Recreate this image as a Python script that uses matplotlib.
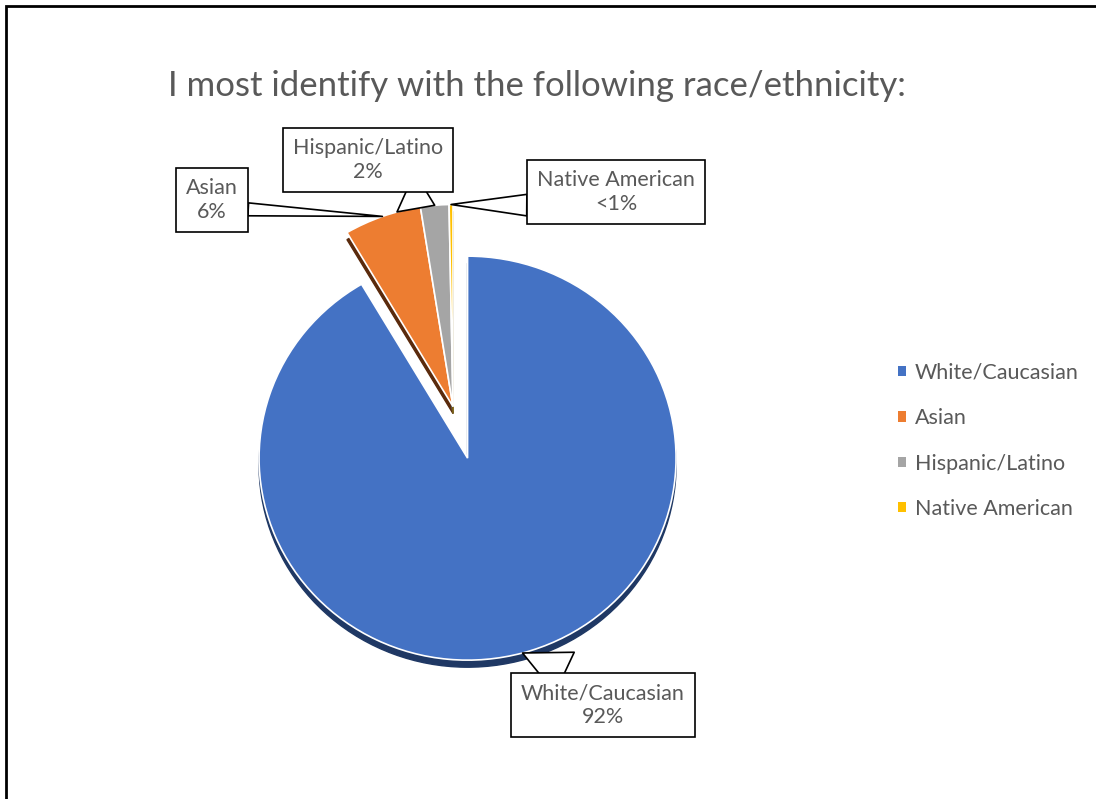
import matplotlib.pyplot as plt
from matplotlib.patches import Wedge, Rectangle
import numpy as np

plt.rcParams['font.family'] = ['Lato', 'DejaVu Sans']

labels = ["White/Caucasian", "Asian", "Hispanic/Latino", "Native American"]
shares = [91.6, 6.0, 2.2, 0.3]
pct_text = ["92%", "6%", "2%", "<1%"]
colors = ["#4472C4", "#ED7D31", "#A5A5A5", "#FFC000"]
dark = ["#1F3864", "#5A2A0C", "#5E5E5E", "#7F6000"]
explode = [0.265, 0, 0, 0]
text_col = "#595959"

W, H = 1096, 799
fig = plt.figure(figsize=(W / 100, H / 100), dpi=100)

# pie centre ~ (453, 406) px from top, radius ~208 px wide / 202 px high
rx, ry = 208.5, 202
cx_px, cy_px = 453, 406.5
ax = fig.add_axes([(cx_px - 1.25 * rx) / W, (H - cy_px - 1.25 * ry) / H,
                   2.5 * rx / W, 2.5 * ry / H])
wedges, _ = ax.pie(shares, colors=colors, explode=explode, startangle=90,
                   counterclock=False,
                   wedgeprops=dict(edgecolor="white", linewidth=1.2))
ax.set_aspect("auto")
ax.set_xlim(-1.25, 1.25)
ax.set_ylim(-1.25, 1.25)

# fake 3d depth: darker copies shifted a bit down, behind the wedges
depth = 0.035
for i, w in enumerate(wedges):
    t1 = w.theta1 + (8 if i == 0 else 0)
    cx, cy = w.center
    ax.add_patch(Wedge((cx, cy - depth), w.r, t1, w.theta2,
                       color=dark[i], zorder=0.5, clip_on=False))

# callouts (box centres in figure pixels, where the pointer leaves the box)
box_pos = [(603, H - 705), (212, H - 200), (368, H - 160), (616, H - 192)]
rel_pos = [(0.4, 1.0), (1.0, 0.3), (0.6, 0.0), (0.0, 0.2)]
tail_w = [2.1, 0.6, 2.0, 1.0]
for i, w in enumerate(wedges):
    mid = np.deg2rad((w.theta1 + w.theta2) / 2)
    cx, cy = w.center
    xy = (cx + w.r * np.cos(mid), cy + w.r * np.sin(mid))
    ax.annotate(labels[i] + "\n" + pct_text[i], xy=xy, xycoords="data",
                xytext=box_pos[i], textcoords="figure pixels",
                ha="center", va="center", fontsize=15.5, color=text_col,
                linespacing=1.25, annotation_clip=False,
                bbox=dict(boxstyle="square,pad=0.45", fc="white", ec="black", lw=1.2),
                arrowprops=dict(arrowstyle="wedge,tail_width=%.2f" % tail_w[i],
                                fc="white", ec="black", lw=1.2,
                                shrinkA=0, shrinkB=0, relpos=rel_pos[i]))

fig.text(537 / W, 1 - 86 / H, "I most identify with the following race/ethnicity:",
         ha="center", va="center", fontsize=25, color=text_col)

leg = fig.legend(wedges, labels, loc="center left", bbox_to_anchor=(879 / W, 1 - 441 / H),
                 frameon=False, fontsize=15.5, handlelength=0.35, handleheight=0.35,
                 handletextpad=0.4, labelspacing=1.18)
for t in leg.get_texts():
    t.set_color(text_col)
for p in leg.get_patches():
    p.set_edgecolor("none")

# chart border (only top and left edges are inside the picture)
fig.add_artist(Rectangle((6 / W, -0.1), 1.2, (H - 6) / H + 0.1, transform=fig.transFigure,
                         fill=False, ec="black", lw=2))

fig.savefig("out.png", dpi=100)
